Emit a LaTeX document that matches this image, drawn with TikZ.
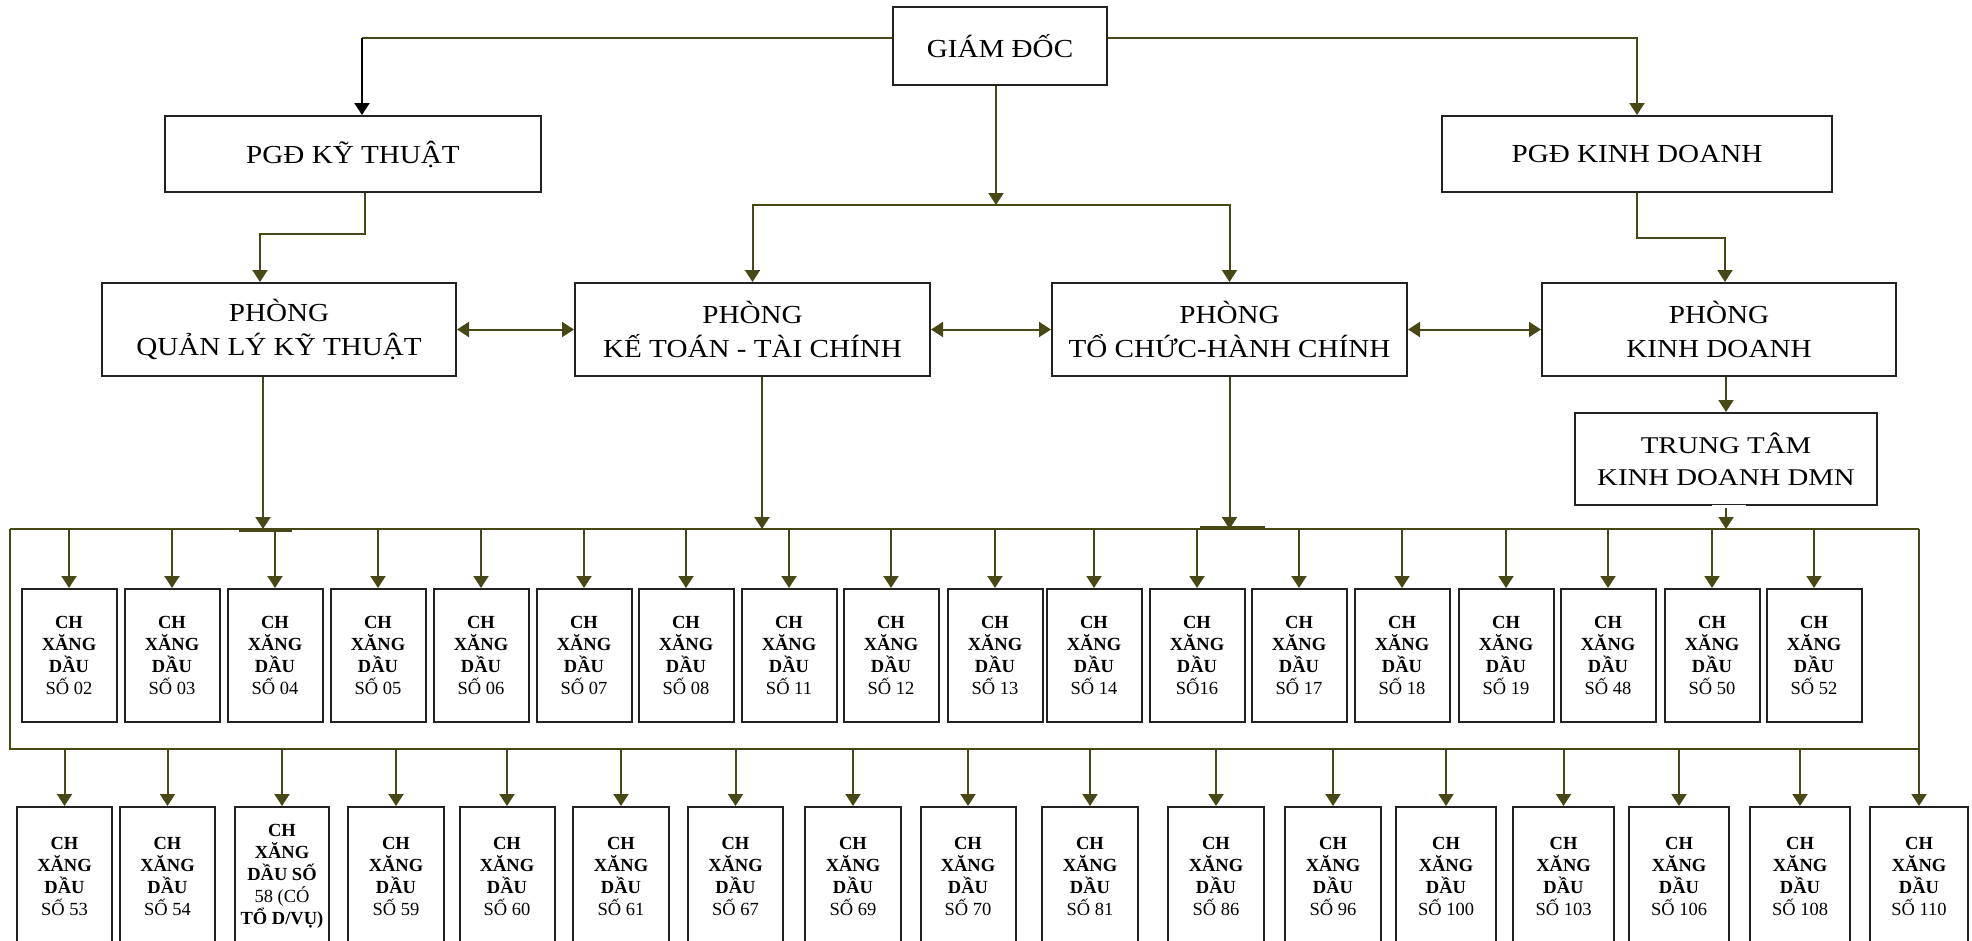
\documentclass[tikz,border=0pt]{standalone}
\usepackage{fontspec}
\setmainfont{Liberation Serif}
\newfontfamily\mainwide[FakeStretch=1.12]{Liberation Serif}
\newfontfamily\ttwide[FakeStretch=1.2]{Liberation Serif}
\usetikzlibrary{arrows.meta}
\definecolor{ol}{RGB}{72,72,22}
\definecolor{bx}{RGB}{34,34,34}
\begin{document}
\begin{tikzpicture}[x=1pt,y=-1pt,
  box/.style={draw=bx, line width=2pt, fill=white, inner sep=0pt, align=center},
  big/.style={box, font=\mainwide\fontsize{26}{34}\selectfont},
  ttbox/.style={box, font=\ttwide\fontsize{24}{32}\selectfont},
  store/.style={box, font=\fontsize{18.5}{22}\selectfont},
  ln/.style={draw=ol, line width=2pt},
  arr/.style={ln, -{Triangle[length=12pt,width=15pt]}},
  blkarr/.style={draw=black, line width=2pt, -{Triangle[length=12pt,width=15pt]}},
  darr/.style={ln, {Triangle[length=12pt,width=15pt]}-{Triangle[length=12pt,width=15pt]}},
]
\useasboundingbox (0,0) rectangle (1972,940);
\clip (0,0) rectangle (1972,940);

% ---- top level nodes
\node[big, minimum width=214pt, minimum height=78pt] (gd) at (1000,46) {GIÁM ĐỐC};
\node[big, minimum width=376pt, minimum height=76pt] (pgdkt) at (353,154) {PGĐ KỸ THUẬT};
\node[big, minimum width=390pt, minimum height=76pt] (pgdkd) at (1637,154) {PGĐ KINH DOANH};
\node[big, minimum width=354pt, minimum height=93pt] (qlkt) at (279,329.5) {PHÒNG\\QUẢN LÝ KỸ THUẬT};
\node[big, minimum width=355pt, minimum height=93pt] (kttc) at (752.5,329.5) {PHÒNG\\KẾ TOÁN - TÀI CHÍNH};
\node[big, minimum width=355pt, minimum height=93pt] (tchc) at (1229.5,329.5) {PHÒNG\\TỔ CHỨC-HÀNH CHÍNH};
\node[big, minimum width=354pt, minimum height=93pt] (kd) at (1719,329.5) {PHÒNG\\KINH DOANH};
\node[ttbox, minimum width=302pt, minimum height=92pt] (tt) at (1726,459) {TRUNG TÂM\\KINH DOANH DMN};

% ---- connectors from the director
\coordinate (gdL) at (362,38);
\coordinate (gdR) at (1637,38);
\coordinate (gdD) at (996,205);
\draw[ln] (gd.west |- gdL) -- (gdL);
\draw[blkarr] (gdL) -- (gdL |- pgdkt.north);
\draw[arr] (gd.east |- gdR) -- (gdR) -- (gdR |- pgdkd.north);
\draw[arr] (gd.south -| gdD) -- (gdD);
\draw[arr] (gdD) -| (kttc.north);
\draw[arr] (gdD) -| (tchc.north);

% ---- deputy directors to departments
\coordinate (k1) at (365,234);
\draw[arr] (pgdkt.south -| k1) -- (k1) -| ([xshift=-19pt]qlkt.north);
\coordinate (k2) at (1637,238);
\draw[arr] (pgdkd.south -| k2) -- (k2) -| ([xshift=6pt]kd.north);
\draw[arr] (tt.north |- kd.south) -- (tt.north);

% ---- double arrows between departments
\draw[darr] (qlkt.east) -- (kttc.west);
\draw[darr] (kttc.east) -- (tchc.west);
\draw[darr] (tchc.east) -- (kd.west);

% ---- buses
\coordinate (busTL) at (10,529);
\coordinate (busTR) at (1919,529);
\coordinate (busBL) at (10,749);
\coordinate (busBR) at (1919,749);
\draw[ln] (busTL) -- (busTR);
\draw[ln] (busTL) -- (busBL) -- (busBR);

% ---- departments to bus
\coordinate (qb) at ([xshift=-16pt]qlkt.south |- busTL);
\draw[arr] ([xshift=-16pt]qlkt.south) -- (qb);
\draw[ln] ([xshift=-24pt,yshift=-2pt]qb) -- ([xshift=29pt,yshift=-2pt]qb);
\draw[arr] ([xshift=9.5pt]kttc.south) -- ([xshift=9.5pt]kttc.south |- busTL);
\coordinate (tb) at (tchc.south |- busTL);
\draw[arr] (tchc.south) -- (tb);
\draw[ln] ([xshift=-30pt,yshift=2pt]tb) -- ([xshift=35pt,yshift=2pt]tb);
\draw[white, line width=3pt] ([xshift=-14pt]tt.south) -- ([xshift=20pt]tt.south);
\draw[arr] ([yshift=-2pt]tt.south) -- (tt.south |- busTL);

% ---- top row of stores
\foreach \nm/\cx/\lab in {02/69/SỐ 02, 03/172/SỐ 03, 04/275/SỐ 04, 05/378/SỐ 05,
  06/481/SỐ 06, 07/584/SỐ 07, 08/686/SỐ 08, 11/789/SỐ 11, 12/891/SỐ 12,
  13/995/SỐ 13, 14/1094/SỐ 14, 16/1197/SỐ16, 17/1299/SỐ 17, 18/1402/SỐ 18,
  19/1506/SỐ 19, 48/1608/SỐ 48, 50/1712/SỐ 50, 52/1814/SỐ 52} {
  \node[store, minimum width=95pt, minimum height=133pt] (t\nm) at (\cx,655.5)
    {\textbf{CH}\\\textbf{XĂNG}\\\textbf{DẦU}\\\lab};
  \draw[arr] (t\nm.north |- busTL) -- (t\nm.north);
}

% ---- bottom row of stores
\foreach \nm/\cx/\w/\lab in {53/64.5/95/SỐ 53, 54/167.5/95/SỐ 54,
  59/396/96/SỐ 59, 60/507/95/SỐ 60, 61/621/96/SỐ 61, 67/735.5/95/SỐ 67,
  69/853/96/SỐ 69, 70/968/95/SỐ 70, 81/1090/96/SỐ 81, 86/1216/96/SỐ 86,
  96/1333/96/SỐ 96, 100/1446/100/SỐ 100, 103/1563.5/101/SỐ 103,
  106/1679/100/SỐ 106, 108/1800/100/SỐ 108} {
  \node[store, minimum width=\w pt, minimum height=138pt] (b\nm) at (\cx,876)
    {\textbf{CH}\\\textbf{XĂNG}\\\textbf{DẦU}\\\lab};
  \draw[arr] (b\nm.north |- busBL) -- (b\nm.north);
}
\node[store, minimum width=94pt, minimum height=138pt] (b58) at (282,876)
  {\textbf{CH}\\\textbf{XĂNG}\\\textbf{DẦU SỐ}\\58 (CÓ\\\textbf{TỔ D/VỤ)}};
\draw[arr] (b58.north |- busBL) -- (b58.north);
\node[store, minimum width=98pt, minimum height=138pt] (b110) at (1919,876)
  {\textbf{CH}\\\textbf{XĂNG}\\\textbf{DẦU}\\SỐ 110};
\draw[arr] (busTR) -- (b110.north);
\end{tikzpicture}
\end{document}
